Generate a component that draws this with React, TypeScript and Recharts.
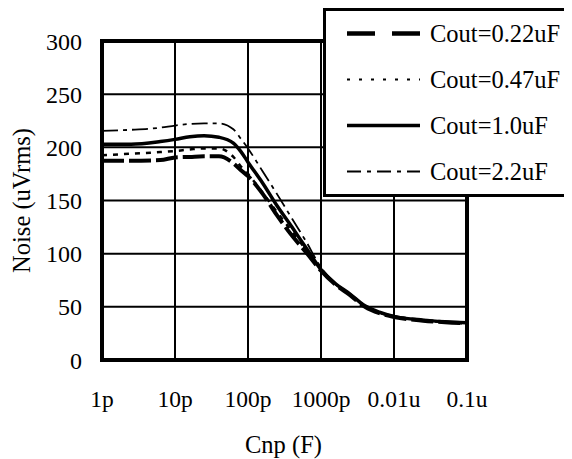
import React from "react";
import {
  LineChart,
  Line,
  XAxis,
  YAxis,
  CartesianGrid,
  ReferenceArea,
  Legend,
  Label,
} from "recharts";

// Capacitance Cnp in farads (x positions of the read-off points)
const capacitance = [
  1e-12, 2.5e-12, 6.3e-12, 1e-11, 1.6e-11, 2.5e-11, 4e-11, 6.3e-11, 8e-11,
  1e-10, 1.6e-10, 2.5e-10, 4e-10, 6.3e-10, 1e-9, 1.6e-9, 2.5e-9, 4e-9, 6.3e-9,
  1e-8, 2.5e-8, 5e-8, 1e-7,
];

// Noise (uVrms) for each output capacitor
const cout022 = [
  187.5, 187.5, 188, 190.5, 191, 191.5, 191.5, 185, 178.5, 173, 156, 136, 117,
  101, 84, 70.5, 61, 50, 44, 40.5, 37, 35.5, 34.5,
];
const cout047 = [
  192.5, 194, 195.5, 196.5, 198, 199, 199, 191, 182, 175, 157, 139, 121, 103,
  84.5, 71, 61.5, 50.5, 44.5, 41, 37.5, 35.5, 34.5,
];
const cout10 = [
  203, 203, 205.5, 207.5, 210, 211, 209.5, 204, 196, 186, 166, 145, 125, 105,
  85, 71.5, 62, 51, 45, 41, 37.5, 36, 35,
];
const cout22 = [
  215.5, 216.5, 218.5, 220.5, 222, 222.5, 222.5, 217, 208, 199, 177, 156, 133,
  111, 87, 72, 62, 51, 45, 41, 37.5, 36, 35,
];

const xTicks = [1e-12, 1e-11, 1e-10, 1e-9, 1e-8, 1e-7];
const xTickLabels = ["1p", "10p", "100p", "1000p", "0.01u", "0.1u"];
const yTicks = [0, 50, 100, 150, 200, 250, 300];

const seriesNames = ["Cout=0.22uF", "Cout=0.47uF", "Cout=1.0uF", "Cout=2.2uF"];

const data = capacitance.map((c, i) => ({
  c,
  s022: cout022[i],
  s047: cout047[i],
  s10: cout10[i],
  s22: cout22[i],
}));

const FONT = "'Liberation Serif', 'Times New Roman', serif";

const seriesStyle = [
  { key: "s022", width: 4, dash: "22 5", legendDash: "28 17", legendWidth: 4.5 },
  { key: "s047", width: 2.5, dash: "5 6", legendDash: "3 9", legendWidth: 2 },
  { key: "s10", width: 3.5, dash: undefined, legendDash: undefined, legendWidth: 3.5 },
  { key: "s22", width: 1.8, dash: "16 5 4 5", legendDash: "14 6 4 6", legendWidth: 1.8 },
];

const XTick = (props: any) => {
  const { x, y, payload } = props;
  const i = xTicks.indexOf(payload.value);
  return (
    <text
      x={x}
      y={y + 39}
      textAnchor="middle"
      fontSize={23.5}
      fontFamily={FONT}
      fill="#000"
    >
      {xTickLabels[i]}
    </text>
  );
};

const XTitle = (props: any) => {
  const vb = props.viewBox;
  return (
    <text
      x={vb.x + vb.width / 2 - 1}
      y={vb.y + 93}
      textAnchor="middle"
      fontSize={24.5}
      fontFamily={FONT}
      fill="#000"
    >
      Cnp (F)
    </text>
  );
};

const YTitle = (props: any) => {
  const vb = props.viewBox;
  const cx = 13;
  const cy = vb.y + vb.height / 2;
  return (
    <text
      x={cx}
      y={cy}
      textAnchor="middle"
      dominantBaseline="central"
      transform={`rotate(-90, ${cx}, ${cy})`}
      fontSize={24.5}
      fontFamily={FONT}
      fill="#000"
    >
      Noise (uVrms)
    </text>
  );
};

const LegendBox = () => (
  <div
    style={{
      width: 245,
      height: 189,
      background: "#fff",
      boxSizing: "border-box",
      border: "3px solid #000",
    }}
  >
    <svg width={239} height={183} style={{ display: "block" }}>
      {seriesNames.map((name, i) => {
        const st = seriesStyle[i];
        const ly = 22.5 + i * 46;
        return (
          <g key={name}>
            <line
              x1={21}
              x2={94}
              y1={ly}
              y2={ly}
              stroke="#000"
              strokeWidth={st.legendWidth}
              strokeDasharray={st.legendDash}
            />
            <text
              x={104}
              y={31 + i * 46}
              fontSize={24.5}
              fontFamily={FONT}
              fill="#000"
            >
              {name}
            </text>
          </g>
        );
      })}
    </svg>
  </div>
);

export default function App() {
  return (
    <LineChart
      width={564}
      height={451}
      data={data}
      margin={{ top: 33, right: 105, bottom: 39, left: 0 }}
      style={{ fontFamily: FONT }}
    >
      <CartesianGrid stroke="#000" strokeWidth={2} />
      <XAxis
        dataKey="c"
        type="number"
        scale="log"
        domain={[1e-12, 1e-7]}
        ticks={xTicks}
        allowDataOverflow
        axisLine={false}
        tickLine={false}
        height={60}
        tick={<XTick />}
        interval={0}
      >
        <Label content={<XTitle />} />
      </XAxis>
      <YAxis
        type="number"
        domain={[0, 300]}
        ticks={yTicks}
        width={94}
        axisLine={false}
        tickLine={false}
        tickMargin={14}
        interval={0}
        tick={{ fontSize: 24, fill: "#000", fontFamily: FONT }}
      >
        <Label content={<YTitle />} />
      </YAxis>
      <ReferenceArea
        x1={1e-12}
        x2={1e-7}
        y1={0}
        y2={300}
        fill="none"
        fillOpacity={0}
        stroke="#000"
        strokeWidth={4}
        ifOverflow="visible"
      />
      {seriesStyle.map((st, i) => (
        <Line
          key={st.key}
          dataKey={st.key}
          name={seriesNames[i]}
          stroke="#000"
          strokeWidth={st.width}
          strokeDasharray={st.dash}
          dot={false}
          activeDot={false}
          type="monotone"
          isAnimationActive={false}
        />
      ))}
      <Legend
        layout="horizontal"
        verticalAlign="middle"
        align="center"
        width={245}
        height={189}
        wrapperStyle={{ left: 315, top: 0, width: 245, height: 189 }}
        content={<LegendBox />}
      />
    </LineChart>
  );
}
